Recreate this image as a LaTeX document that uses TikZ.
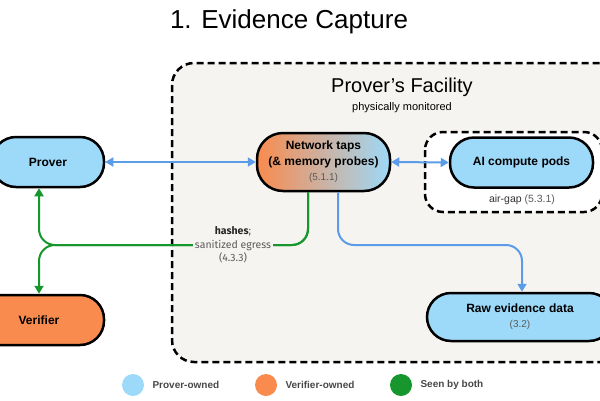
\documentclass[tikz,border=0pt]{standalone}
\usepackage{fontspec}
\setmainfont{Liberation Sans}
\newfontfamily\firafont{Fira Sans}
\usetikzlibrary{arrows.meta}
\definecolor{pblue}{HTML}{9DD9F8}
\definecolor{vorange}{HTML}{F98B4E}
\definecolor{sgreen}{HTML}{16962C}
\definecolor{ablue}{HTML}{5B9BE8}
\definecolor{facfill}{HTML}{F5F4F0}
\definecolor{subgray}{HTML}{5A5A5A}
\newcommand\subtxt[1]{{\normalfont\fontsize{10}{12}\selectfont\color{subgray}#1}}
\begin{document}
\begin{tikzpicture}[x=1pt,y=-1pt,
  box/.style={draw=black,line width=2.5pt,rounded corners=24pt,minimum height=50pt,inner sep=0pt,align=center,font=\bfseries\fontsize{12}{16}\selectfont},
  dashbox/.style={draw=black,line width=2.5pt,dash pattern=on 7pt off 4pt},
  barrow/.style={draw=ablue,line width=2pt},
  garrow/.style={draw=sgreen,line width=2pt},
  tip/.style={-{Triangle[length=8pt,width=9pt]}},
  legtext/.style={anchor=west,font=\bfseries\fontsize{10}{12}\selectfont,text=black!72},
]
\useasboundingbox (0,0) rectangle (600,400);
\clip (0,0) rectangle (600,400);

% title
\node (title) at (289,22) {\fontsize{26}{30}\selectfont 1. Evidence Capture};

% facility
\draw[dashbox,fill=facfill,rounded corners=22pt] (172,63) rectangle (640,362);
\node (factitle) at (402,87) {\fontsize{20}{24}\selectfont Prover’s Facility};
\node (facsub) at (402,108) {\fontsize{11}{13}\selectfont physically monitored};

% air gap
\draw[dashbox,fill=white,rounded corners=18pt] (425,132) rectangle (602,212);
\node (airgap) at (522,200) {\fontsize{10.5}{12}\selectfont\color{black!80}air-gap \color{subgray}(5.3.1)};

% nodes
\node[box,fill=pblue,minimum width=112pt] (prover) at (48,162) {Prover};
\node[box,fill=vorange,minimum width=130pt] (verifier) at (39,320) {Verifier};
\node[box,left color=vorange,right color=pblue,minimum width=133pt,minimum height=58pt,rounded corners=26pt] (taps) at (323.5,162)
  {Network taps\\(\& memory probes)\\[-1pt]\subtxt{(5.1.1)}};
\node[box,fill=pblue,minimum width=143pt] (ai) at (521.5,162.5) {AI compute pods};
\node[box,fill=pblue,minimum width=186pt,minimum height=48pt] (raw) at (520,317)
  {Raw evidence data\\[-1pt]\subtxt{(3.2)}};

% blue connectors
\draw[barrow,{Triangle[length=8pt,width=9pt]}-{Triangle[length=8pt,width=9pt]}] (prover.east) -- (taps.west);
\draw[barrow,{Triangle[length=8pt,width=9pt]}-{Triangle[length=8pt,width=9pt]}] (taps.east) -- (ai.west);
\coordinate (bj) at (522,245);
\draw[barrow,tip,rounded corners=16pt] ([xshift=14.5pt]taps.south) |- (bj) -- (raw.north -| bj);

% green connectors
\coordinate (gj) at (39,245);
\draw[garrow,tip,rounded corners=16pt] ([xshift=-15.5pt]taps.south) |- (gj) -- (prover.south -| gj);
\draw[garrow,tip,rounded corners=16pt] ([xshift=-15.5pt]taps.south) |- (gj) -- (verifier.north -| gj);
\node[fill=facfill,inner sep=1.5pt,align=center,text=subgray,font=\firafont\fontsize{10.5}{13.5}\selectfont] (egress) at (233,245)
  {{\color{black!85}\bfseries hashes};\\sanitized egress\\(4.3.3)};

% legend
\fill[pblue] (133,385) circle (11pt);
\node[legtext] (lp) at (149,385) {Prover-owned};
\fill[vorange] (266,385) circle (11pt);
\node[legtext] (lv) at (282,385) {Verifier-owned};
\fill[sgreen] (401,385) circle (11pt);
\node[legtext] (lb) at (417,385) {Seen by both};
\end{tikzpicture}
\end{document}
